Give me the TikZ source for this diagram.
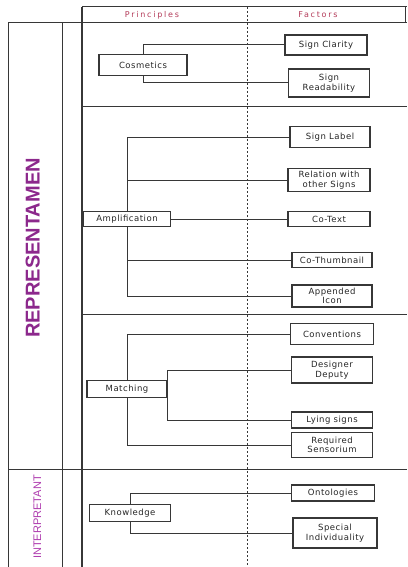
\documentclass[tikz,border=0pt]{standalone}
\usepackage{fontspec}
\setmainfont{Liberation Sans}
\newfontfamily\boxfont[LetterSpace=6]{DejaVu Sans}
\newfontfamily\headfont[LetterSpace=22]{DejaVu Sans}
\newfontfamily\sidefont{Liberation Sans}
\definecolor{reprcol}{RGB}{140,40,140}
\definecolor{interpcol}{RGB}{175,60,175}
\definecolor{headcol}{RGB}{180,60,90}
\definecolor{linecol}{RGB}{55,55,55}
\begin{document}
\begin{tikzpicture}[x=1pt,y=-1pt,
  box/.style={draw=linecol, line width=1.1pt, fill=white, inner sep=1pt, align=center,
    font=\boxfont\fontsize{8.5}{9.5}\selectfont, text=black!85},
  conn/.style={draw=linecol, line width=1pt},
  grid/.style={draw=linecol, line width=1pt},
  head/.style={font=\headfont\fontsize{8}{9}\selectfont, text=headcol}
]
\useasboundingbox (0,0) rectangle (407,567);
\fill[white] (0,0) rectangle (407,567);

% table lines
\draw[grid] (82,7) -- (407,7);
\draw[grid] (405,7) -- (405,23);
\draw[grid] (8,23) -- (407,23);
\draw[grid] (8,23) -- (8,567);
\draw[grid] (62,23) -- (62,567);
\draw[grid, line width=1.5pt] (82,7) -- (82,567);
\draw[grid] (82,107) -- (407,107);
\draw[grid] (82,314) -- (407,314);
\draw[grid] (8,469) -- (407,469);
\draw[linecol, line width=0.9pt, dash pattern=on 2pt off 2pt] (247,7) -- (247,567);

% headers
\node[head] (hp) at (152,15) {Principles};
\node[head] (hf) at (318,15) {Factors};

% side labels
\node[font=\sidefont\bfseries\fontsize{20}{22}\selectfont, text=reprcol, rotate=90, anchor=base, inner sep=0pt] (rep) at (39.5,248) {REPRESENTAMEN};
\node[font=\sidefont\fontsize{11}{12}\selectfont, text=interpcol, rotate=90, anchor=base, inner sep=0pt] (int) at (41,517) {INTERPRETANT};

% Cosmetics section
\node[box, minimum width=88pt, minimum height=21pt] (cos) at (143,65) {Cosmetics};
\node[box, minimum width=82pt, minimum height=20pt] (sc) at (326,45) {Sign Clarity};
\node[box, minimum width=81pt, minimum height=28pt] (sr) at (329,83) {Sign\\Readability};
\draw[conn] (cos.north) |- (sc.west);
\draw[conn] (cos.south) |- (sr.west);

% Amplification section
\node[box, minimum width=87pt, minimum height=15pt] (amp) at (127,219) {Amplification};
\node[box, minimum width=80pt, minimum height=21pt] (sl) at (330,137) {Sign Label};
\node[box, minimum width=82pt, minimum height=23pt] (rel) at (329,180) {Relation with\\other Signs};
\node[box, minimum width=82pt, minimum height=15pt] (ct) at (329,219) {Co-Text};
\node[box, minimum width=80pt, minimum height=15pt] (cth) at (332,260) {Co-Thumbnail};
\node[box, minimum width=80pt, minimum height=22pt] (ai) at (332,296) {Appended\\Icon};
\draw[conn] (amp.north) |- (sl.west);
\draw[conn] (amp.north) |- (rel.west);
\draw[conn] (amp.east) -- (ct.west);
\draw[conn] (amp.south) |- (cth.west);
\draw[conn] (amp.south) |- (ai.west);

% Matching section
\node[box, minimum width=80pt, minimum height=17pt] (mat) at (127,389) {Matching};
\node[box, minimum width=83pt, minimum height=21pt] (conv) at (332,334) {Conventions};
\node[box, minimum width=81pt, minimum height=26pt] (dd) at (332,370) {Designer\\Deputy};
\node[box, minimum width=81pt, minimum height=16pt] (ly) at (332,420) {Lying signs};
\node[box, minimum width=81pt, minimum height=25pt] (rs) at (332,445) {Required\\Sensorium};
\draw[conn] (mat.north) |- (conv.west);
\draw[conn] (mat.south) |- (rs.west);
\draw[conn] (mat.north east) |- (dd.west);
\draw[conn] (mat.south east) |- (ly.west);

% Knowledge section
\node[box, minimum width=81pt, minimum height=17pt] (kn) at (130,513) {Knowledge};
\node[box, minimum width=83pt, minimum height=16pt] (ont) at (333,493) {Ontologies};
\node[box, minimum width=84pt, minimum height=30pt] (si) at (335,533) {Special\\Individuality};
\draw[conn] (kn.north) |- (ont.west);
\draw[conn] (kn.south) |- (si.west);
\end{tikzpicture}
\end{document}
